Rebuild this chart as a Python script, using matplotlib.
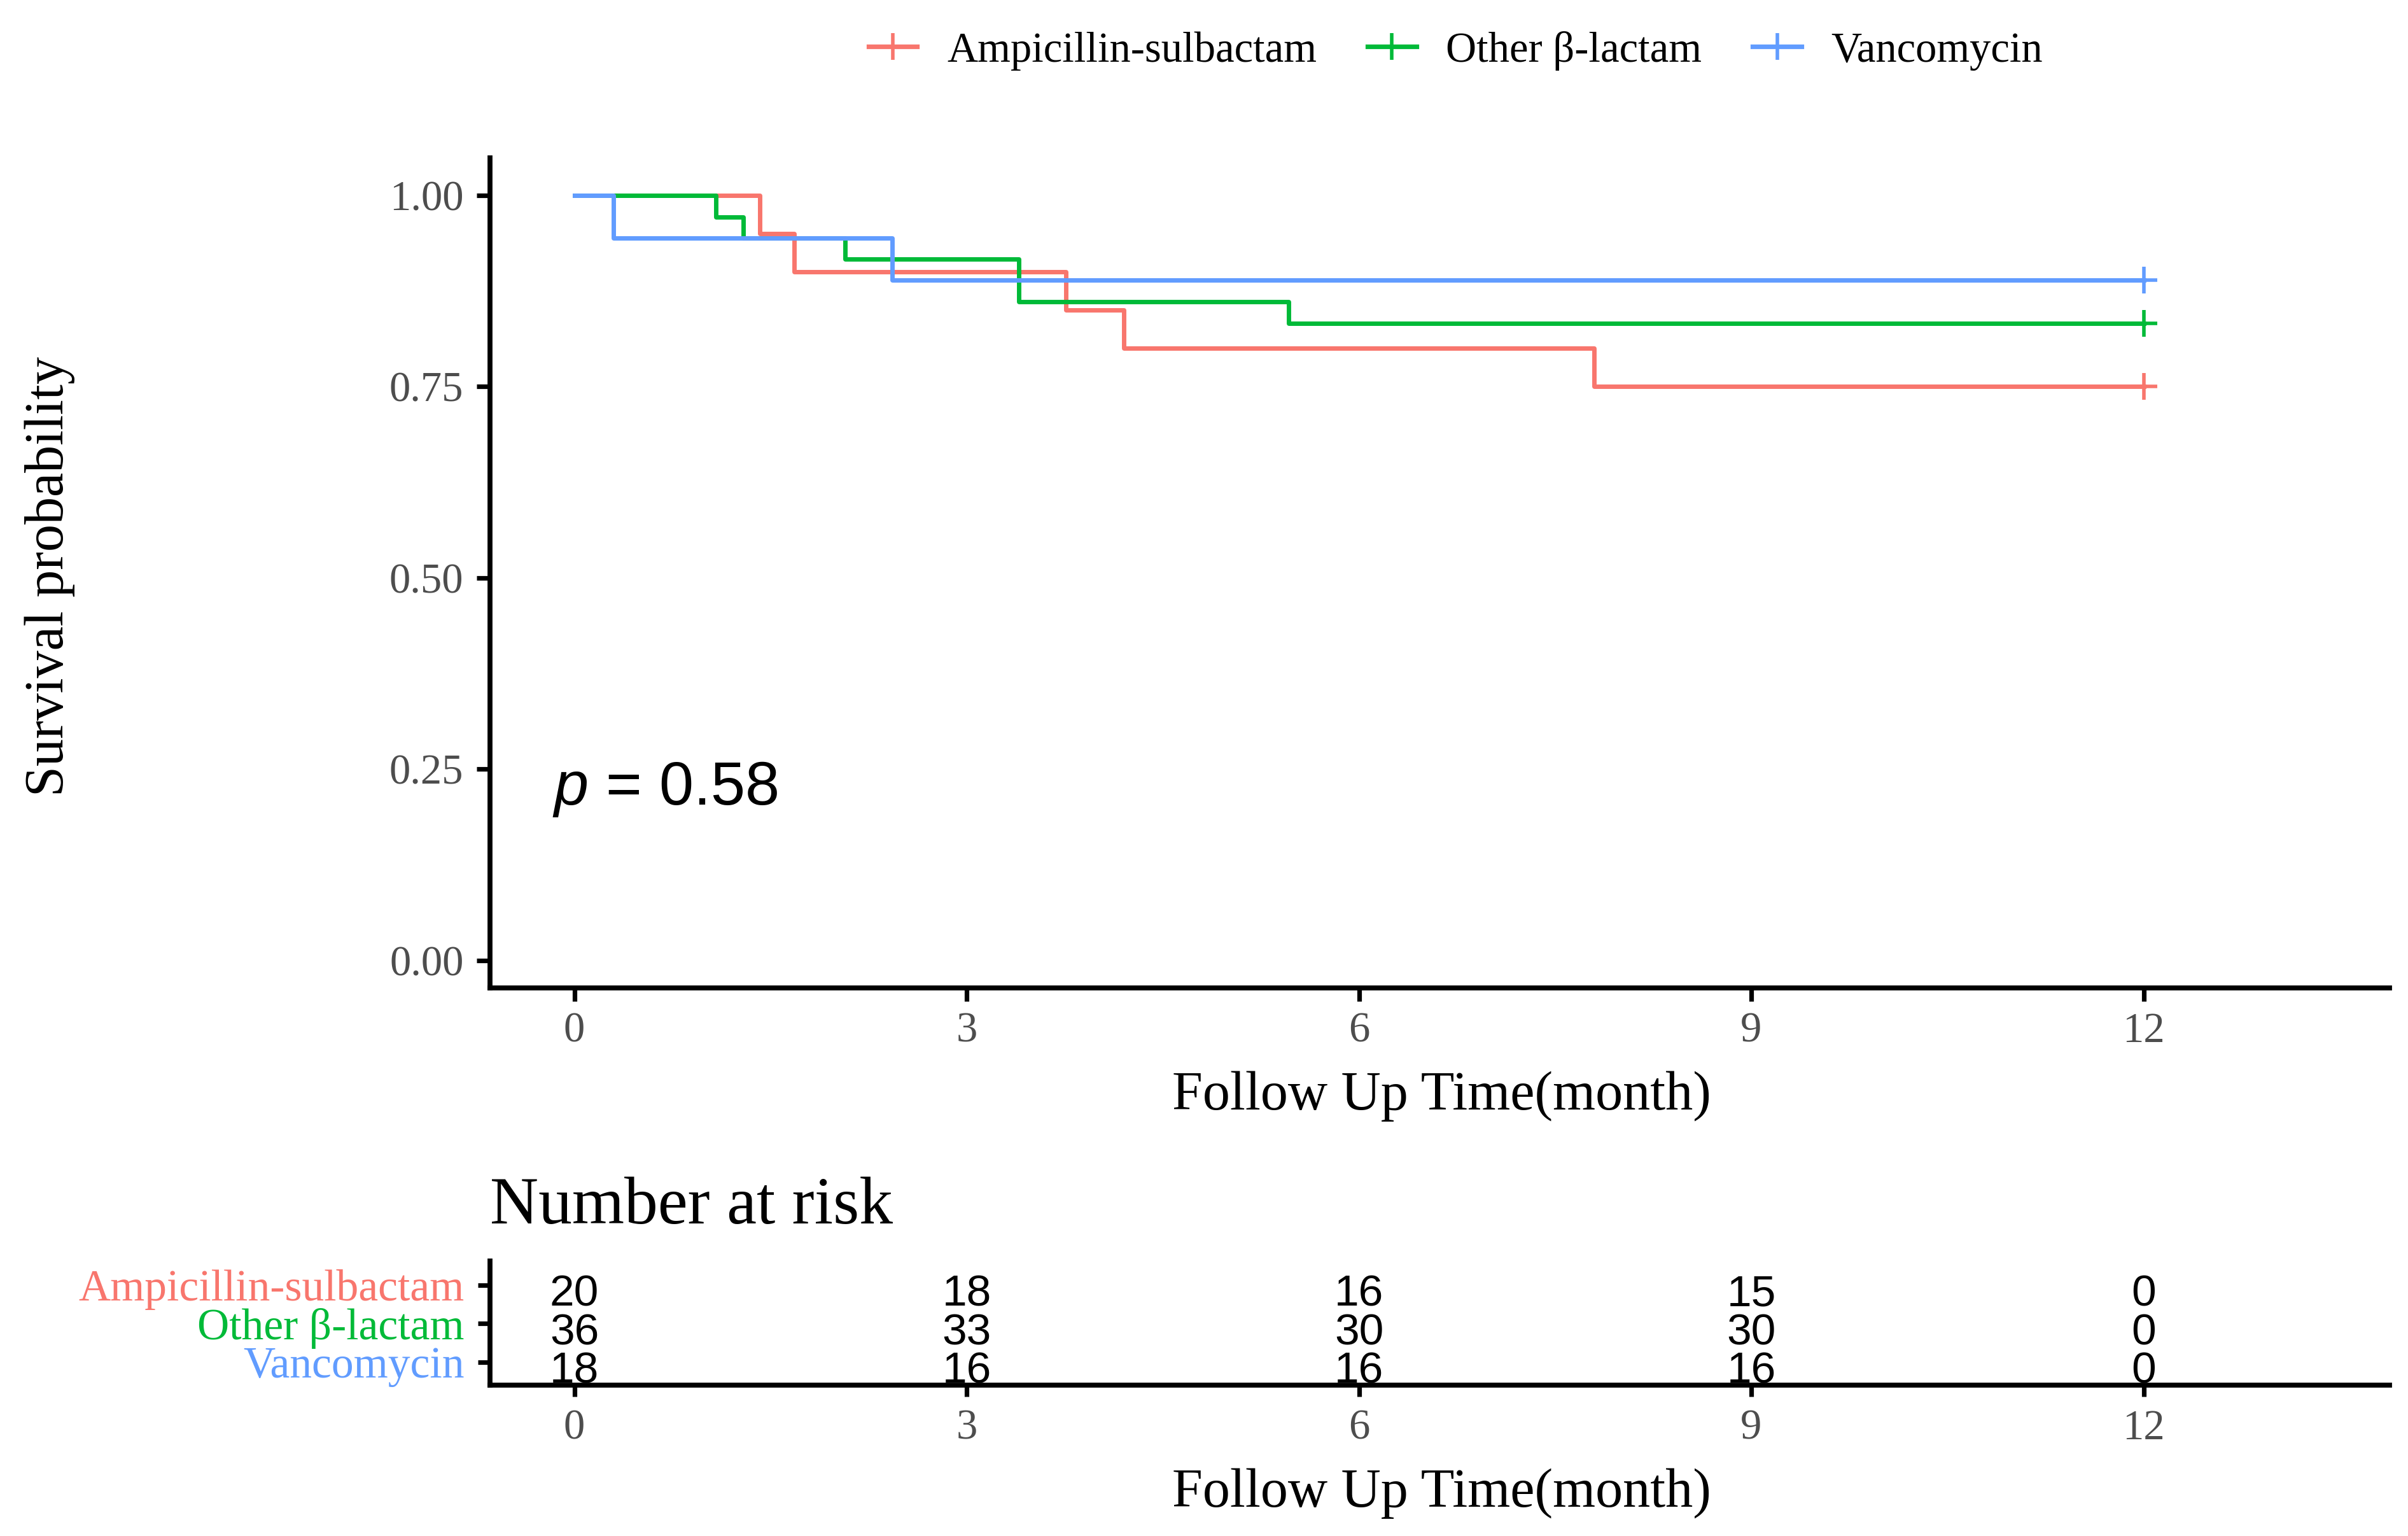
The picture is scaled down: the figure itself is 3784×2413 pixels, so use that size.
import matplotlib
matplotlib.use("Agg")
import matplotlib.pyplot as plt
from matplotlib.lines import Line2D

plt.rcParams['mathtext.fontset'] = 'custom'
plt.rcParams['mathtext.it'] = 'Liberation Sans:italic'
plt.rcParams['mathtext.rm'] = 'Liberation Sans'

# ---------------- data ----------------
groups = ["Ampicillin-sulbactam", "Other \u03b2-lactam", "Vancomycin"]
colors = ["#F8766D", "#00BA38", "#619CFF"]

amp_time = [0, 1.42, 1.68, 3.76, 4.20, 7.80, 12]
amp_surv = [1.0, 0.95, 0.90, 0.85, 0.80, 0.75, 0.75]
oth_time = [0, 1.08, 1.29, 2.07, 3.40, 5.46, 12]
oth_surv = [1.0, 0.972, 0.944, 0.917, 0.861, 0.833, 0.833]
van_time = [0, 0.30, 2.43, 12]
van_surv = [1.0, 0.944, 0.889, 0.889]

censor_time = [12, 12, 12]
censor_surv = [0.75, 0.833, 0.889]

risk_times = [0, 3, 6, 9, 12]
amp_risk = [20, 18, 16, 15, 0]
oth_risk = [36, 33, 30, 30, 0]
van_risk = [18, 16, 16, 16, 0]

y_ticks = [0.00, 0.25, 0.50, 0.75, 1.00]
x_ticks = [0, 3, 6, 9, 12]
p_text = "$p$ = 0.58"

# ---------------- figure ----------------
SERIF = "Liberation Serif"
SANS = "Liberation Sans"
GREY = "#4D4D4D"
XLIM = (-0.645, 13.88)
fig = plt.figure(figsize=(18.92, 12.065), dpi=200)

ax = fig.add_axes([0.2035, 0.3568, 0.7888, 0.5404])
times = [amp_time, oth_time, van_time]
survs = [amp_surv, oth_surv, van_surv]
for t, s, c in zip(times, survs, colors):
    ax.step(t, s, where='post', color=c, lw=2.5)
for i, c in enumerate(colors):
    ax.plot(censor_time[i], censor_surv[i], marker='+', ms=15, mew=2.0, color=c, ls='none')

ax.set_xlim(*XLIM)
ax.set_ylim(-0.036, 1.049)
ax.set_xticks(x_ticks)
ax.set_yticks(y_ticks)
ax.set_yticklabels([f"{v:.2f}" for v in y_ticks])
for sp in ['top', 'right']:
    ax.spines[sp].set_visible(False)
for sp in ['left', 'bottom']:
    ax.spines[sp].set_linewidth(2.8)
ax.tick_params(axis='both', length=7.5, width=2.6, color='black', labelcolor=GREY, labelsize=24)
ax.tick_params(axis='x', pad=6)
ax.tick_params(axis='y', pad=7.5)
for lab in ax.get_xticklabels() + ax.get_yticklabels():
    lab.set_fontfamily(SERIF)

ax.text(-0.17, 0.204, p_text, fontsize=35, family=SANS, ha='left', va='baseline')

fig.text(0.5986, 0.2777, "Follow Up Time(month)", family=SERIF, fontsize=31, ha='center', va='baseline')
fig.text(0.0208, 0.6248, "Survival probability", family=SERIF, fontsize=31, ha='center', va='center', rotation=90)

# legend
handles = [Line2D([0], [0], color=c, lw=2.6, marker='+', ms=15, mew=2.0) for c in colors]
fig.legend(handles, groups, loc='center', bbox_to_anchor=(0.6045, 0.967), ncol=3, frameon=False,
           prop={'family': SERIF, 'size': 24}, handlelength=1.15, handletextpad=0.7, columnspacing=1.2)

# ---------------- risk table ----------------
fig.text(0.2035, 0.2035, "Number at risk", family=SERIF, fontsize=38, ha='left', va='baseline')

rax = fig.add_axes([0.2035, 0.0982, 0.7888, 0.0808])
risks = [amp_risk, oth_risk, van_risk]
rows = [3, 2, 1]
for r, vals in zip(rows, risks):
    for t, v in zip(risk_times, vals):
        rax.text(t, r - 0.545, str(v), family=SANS, fontsize=25, ha='center', va='baseline')
rax.set_xlim(*XLIM)
rax.set_ylim(0.4, 3.62)
rax.set_xticks(x_ticks)
rax.set_yticks(rows)
rax.set_yticklabels(groups)
for lab, c in zip(rax.get_yticklabels(), colors):
    lab.set_color(c)
    lab.set_fontfamily(SERIF)
    lab.set_fontsize(25)
for sp in ['top', 'right']:
    rax.spines[sp].set_visible(False)
for sp in ['left', 'bottom']:
    rax.spines[sp].set_linewidth(2.8)
rax.tick_params(axis='x', length=6.5, width=2.6, labelcolor=GREY, labelsize=24, pad=7)
rax.tick_params(axis='y', length=7, width=2.6, pad=7.5)
for lab in rax.get_xticklabels():
    lab.set_fontfamily(SERIF)
fig.text(0.5986, 0.0191, "Follow Up Time(month)", family=SERIF, fontsize=31, ha='center', va='baseline')

fig.savefig("out.png", dpi=200, facecolor='white')
